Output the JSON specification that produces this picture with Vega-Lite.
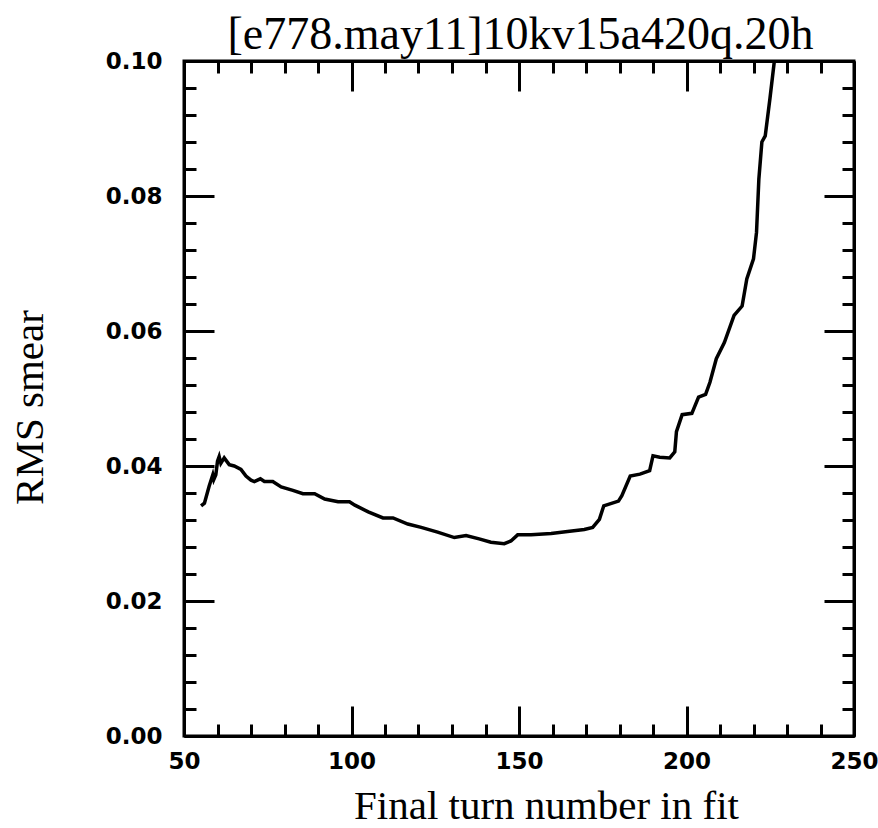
{
  "$schema": "https://vega.github.io/schema/vega-lite/v6.json",
  "width": 670,
  "height": 675,
  "autosize": "none",
  "padding": {"left": 184, "top": 61, "right": 24, "bottom": 92},
  "background": "white",
  "config": {
    "view": {"stroke": "black", "strokeWidth": 3},
    "axis": {
      "domainColor": "black",
      "domainWidth": 3,
      "tickColor": "black",
      "tickWidth": 3,
      "grid": false,
      "labelColor": "black",
      "labelFont": "DejaVu Sans",
      "labelFontWeight": "bold",
      "labelFontSize": 23,
      "labelFlush": false,
      "labelOverlap": false,
      "titleColor": "black",
      "titleFont": "Liberation Serif",
      "titleFontWeight": "normal",
      "titleFontSize": 41
    }
  },
  "data": {
    "values": [
      {"turn": 55.1, "rms": 0.0341},
      {"turn": 56.1, "rms": 0.0345},
      {"turn": 57.5, "rms": 0.0370},
      {"turn": 58.6, "rms": 0.0387},
      {"turn": 58.9, "rms": 0.0380},
      {"turn": 59.5, "rms": 0.0387},
      {"turn": 60.0, "rms": 0.0407},
      {"turn": 60.5, "rms": 0.0414},
      {"turn": 61.0, "rms": 0.0404},
      {"turn": 62.0, "rms": 0.0412},
      {"turn": 63.5, "rms": 0.0402},
      {"turn": 65.0, "rms": 0.0400},
      {"turn": 67.0, "rms": 0.0395},
      {"turn": 68.5, "rms": 0.0385},
      {"turn": 70.0, "rms": 0.0379},
      {"turn": 71.0, "rms": 0.0377},
      {"turn": 72.8, "rms": 0.0381},
      {"turn": 74.0, "rms": 0.0377},
      {"turn": 76.5, "rms": 0.0377},
      {"turn": 79.0, "rms": 0.0369},
      {"turn": 82.5, "rms": 0.0364},
      {"turn": 85.5, "rms": 0.0359},
      {"turn": 89.0, "rms": 0.0359},
      {"turn": 92.0, "rms": 0.0351},
      {"turn": 96.0, "rms": 0.0347},
      {"turn": 99.4, "rms": 0.0347},
      {"turn": 101.0, "rms": 0.0342},
      {"turn": 105.0, "rms": 0.0332},
      {"turn": 109.4, "rms": 0.0323},
      {"turn": 112.4, "rms": 0.0323},
      {"turn": 116.8, "rms": 0.0314},
      {"turn": 120.8, "rms": 0.0309},
      {"turn": 125.7, "rms": 0.0302},
      {"turn": 130.7, "rms": 0.0294},
      {"turn": 134.2, "rms": 0.0297},
      {"turn": 138.1, "rms": 0.0292},
      {"turn": 141.6, "rms": 0.0287},
      {"turn": 145.6, "rms": 0.0285},
      {"turn": 147.6, "rms": 0.0289},
      {"turn": 149.6, "rms": 0.0298},
      {"turn": 153.6, "rms": 0.0298},
      {"turn": 159.6, "rms": 0.0300},
      {"turn": 164.5, "rms": 0.0303},
      {"turn": 169.5, "rms": 0.0306},
      {"turn": 172.0, "rms": 0.0309},
      {"turn": 174.0, "rms": 0.0321},
      {"turn": 175.3, "rms": 0.0341},
      {"turn": 179.7, "rms": 0.0348},
      {"turn": 180.7, "rms": 0.0356},
      {"turn": 183.2, "rms": 0.0385},
      {"turn": 186.1, "rms": 0.0388},
      {"turn": 189.0, "rms": 0.0393},
      {"turn": 190.0, "rms": 0.0415},
      {"turn": 192.0, "rms": 0.0413},
      {"turn": 195.0, "rms": 0.0412},
      {"turn": 196.5, "rms": 0.0421},
      {"turn": 197.0, "rms": 0.0451},
      {"turn": 198.7, "rms": 0.0476},
      {"turn": 201.6, "rms": 0.0478},
      {"turn": 203.6, "rms": 0.0502},
      {"turn": 205.7, "rms": 0.0506},
      {"turn": 207.0, "rms": 0.0524},
      {"turn": 208.9, "rms": 0.0559},
      {"turn": 211.3, "rms": 0.0583},
      {"turn": 214.2, "rms": 0.0623},
      {"turn": 216.6, "rms": 0.0637},
      {"turn": 218.0, "rms": 0.0677},
      {"turn": 220.0, "rms": 0.0707},
      {"turn": 220.9, "rms": 0.0746},
      {"turn": 221.6, "rms": 0.0825},
      {"turn": 222.5, "rms": 0.0880},
      {"turn": 223.5, "rms": 0.0889},
      {"turn": 224.9, "rms": 0.0944},
      {"turn": 226.2, "rms": 0.0999}
    ]
  },
  "layer": [
    {
      "mark": {"type": "line", "color": "black", "strokeWidth": 3.5, "clip": true},
      "encoding": {
        "x": {
          "field": "turn",
          "type": "quantitative",
          "scale": {"domain": [50, 250], "nice": false, "zero": false},
          "axis": {
            "orient": "bottom",
            "values": [50, 60, 70, 80, 90, 100, 110, 120, 130, 140, 150, 160, 170, 180, 190, 200, 210, 220, 230, 240, 250],
            "tickSize": {"condition": {"test": "datum.value % 50 === 0", "value": -30}, "value": -12},
            "labelExpr": "datum.value % 50 === 0 ? datum.label : ''",
            "labelPadding": 44,
            "title": "Final turn number in fit",
            "titleX": 362,
            "titleY": 82,
            "titleAlign": "center",
            "titleBaseline": "alphabetic"
          }
        },
        "y": {
          "field": "rms",
          "type": "quantitative",
          "scale": {"domain": [0, 0.1], "nice": false},
          "axis": {
            "orient": "left",
            "values": [0, 0.004, 0.008, 0.012, 0.016, 0.02, 0.024, 0.028, 0.032, 0.036, 0.04, 0.044, 0.048, 0.052, 0.056, 0.06, 0.064, 0.068, 0.072, 0.076, 0.08, 0.084, 0.088, 0.092, 0.096, 0.1],
            "tickSize": {"condition": {"test": "abs(datum.value * 50 - round(datum.value * 50)) < 0.001", "value": -30}, "value": -12},
            "labelExpr": "abs(datum.value * 50 - round(datum.value * 50)) < 0.001 ? format(datum.value, '.2f') : ''",
            "labelPadding": 52,
            "title": "RMS smear",
            "titleX": -142,
            "titleY": 346,
            "titleAngle": -90,
            "titleAlign": "center",
            "titleBaseline": "alphabetic"
          }
        }
      }
    },
    {
      "mark": {"type": "line", "opacity": 0},
      "encoding": {
        "x": {
          "field": "turn",
          "type": "quantitative",
          "scale": {"domain": [50, 250], "nice": false, "zero": false},
          "axis": {
            "orient": "top",
            "values": [50, 60, 70, 80, 90, 100, 110, 120, 130, 140, 150, 160, 170, 180, 190, 200, 210, 220, 230, 240, 250],
            "tickSize": {"condition": {"test": "datum.value % 50 === 0", "value": -30}, "value": -12},
            "labels": false,
            "title": "[e778.may11]10kv15a420q.20h",
            "titleFontSize": 46,
            "titleX": 336,
            "titleY": -13,
            "titleAlign": "center",
            "titleBaseline": "alphabetic"
          }
        },
        "y": {
          "field": "rms",
          "type": "quantitative",
          "scale": {"domain": [0, 0.1], "nice": false},
          "axis": {
            "orient": "right",
            "values": [0, 0.004, 0.008, 0.012, 0.016, 0.02, 0.024, 0.028, 0.032, 0.036, 0.04, 0.044, 0.048, 0.052, 0.056, 0.06, 0.064, 0.068, 0.072, 0.076, 0.08, 0.084, 0.088, 0.092, 0.096, 0.1],
            "tickSize": {"condition": {"test": "abs(datum.value * 50 - round(datum.value * 50)) < 0.001", "value": -30}, "value": -12},
            "labels": false,
            "title": null
          }
        }
      }
    }
  ],
  "resolve": {"axis": {"x": "independent", "y": "independent"}}
}
